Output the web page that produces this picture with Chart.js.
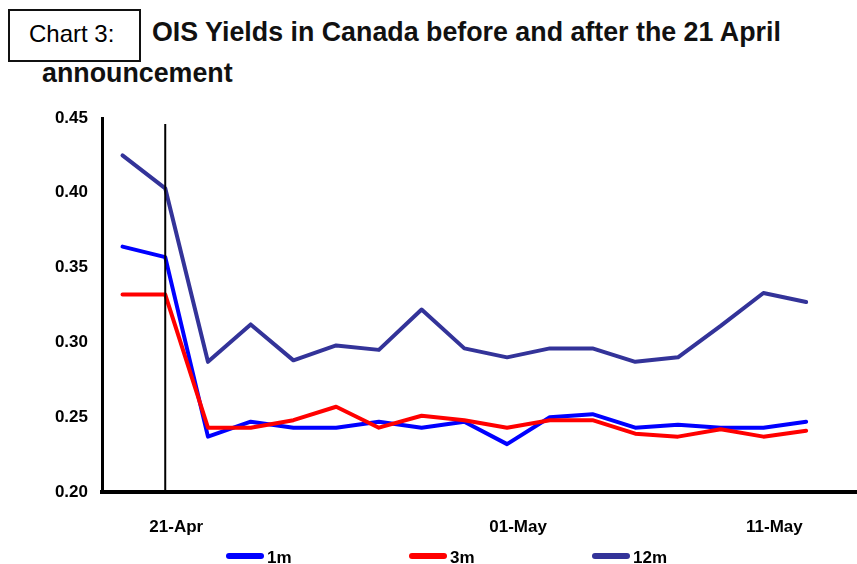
<!DOCTYPE html>
<html>
<head>
<meta charset="utf-8">
<title>OIS Yields in Canada</title>
<script src="https://cdn.jsdelivr.net/npm/chart.js@4/dist/chart.umd.min.js"></script>
<style>
    body { margin: 0; background: #fff; font-family: "Liberation Sans", Arial, sans-serif; color: #000; }
    #wrap { position: relative; width: 857px; height: 564px; overflow: hidden; }
    #chart { position: absolute; left: 0; top: 0; }
    .chart-no-box { position: absolute; left: 8px; top: 9px; width: 129px; height: 49px; border: 2px solid #111; }
    .chart-no { position: absolute; left: 29px; top: 22px; font-size: 24px; line-height: 24px; white-space: nowrap; }
    .title { position: absolute; font-size: 26.8px; line-height: 27px; font-weight: bold; white-space: nowrap; color: #111; }
    .legend-item { position: absolute; top: 549px; height: 17px; font-size: 17px; line-height: 17px; font-weight: bold; white-space: nowrap; }
    .legend-item .swatch { position: absolute; left: 0; top: 4px; width: 38px; height: 6px; border-radius: 3px; }
    .legend-item .text { position: absolute; left: 41px; top: 0; }
</style>
</head>
<body>
<div id="wrap">
    <div class="chart-no-box"></div>
    <div class="chart-no">Chart 3:</div>
    <div class="title" style="left:152px; top:19px;">OIS Yields in Canada before and after the 21 April</div>
    <div class="title" style="left:42px; top:60px;">announcement</div>
    <canvas id="chart" width="857" height="564"></canvas>
    <div id="legend"></div>
</div>
<script>
// Business days shown on the x axis
const dates = ['20-Apr', '21-Apr', '22-Apr', '23-Apr', '24-Apr', '27-Apr', '28-Apr', '29-Apr', '30-Apr',
               '01-May', '04-May', '05-May', '06-May', '07-May', '08-May', '11-May', '12-May'];
const tickDates = ['21-Apr', '01-May', '11-May'];
const eventDate = '21-Apr';
const eventLineTop = 0.446;

// OIS yields (%)
const ois1m  = [0.364, 0.357, 0.237, 0.247, 0.243, 0.243, 0.247, 0.243, 0.247, 0.232, 0.250, 0.252, 0.243, 0.245, 0.243, 0.243, 0.247];
const ois3m  = [0.332, 0.332, 0.243, 0.243, 0.248, 0.257, 0.243, 0.251, 0.248, 0.243, 0.248, 0.248, 0.239, 0.237, 0.242, 0.237, 0.241];
const ois12m = [0.425, 0.403, 0.287, 0.312, 0.288, 0.298, 0.295, 0.322, 0.296, 0.290, 0.296, 0.296, 0.287, 0.290, 0.311, 0.333, 0.327];

const seriesNames = ['1m', '3m', '12m'];
const seriesColors = ['#0000ff', '#ff0000', '#333399'];
const yTicks = [0.20, 0.25, 0.30, 0.35, 0.40, 0.45];

const FONT = '"Liberation Sans", Arial, sans-serif';

// Turn a value list into {x, y} points on the date index
function toPoints(values) {
    return values.map((v, i) => ({ x: i, y: v }));
}

// Vertical marker on the announcement day
const eventLine = {
    id: 'eventLine',
    afterDatasetsDraw(chart) {
        const x = chart.scales.x.getPixelForValue(dates.indexOf(eventDate));
        const top = chart.scales.y.getPixelForValue(eventLineTop);
        const ctx = chart.ctx;
        ctx.save();
        ctx.strokeStyle = '#000';
        ctx.lineWidth = 2;
        ctx.beginPath();
        ctx.moveTo(x, top);
        ctx.lineTo(x, chart.chartArea.bottom);
        ctx.stroke();
        ctx.restore();
    }
};

const allSeries = [ois1m, ois3m, ois12m];

new Chart(document.getElementById('chart'), {
    type: 'line',
    data: {
        datasets: allSeries.map((values, i) => ({
            label: seriesNames[i],
            data: toPoints(values),
            borderColor: seriesColors[i],
            backgroundColor: seriesColors[i],
            borderWidth: 4,
            pointRadius: 0,
            tension: 0,
            borderJoinStyle: 'round',
            borderCapStyle: 'round',
            order: allSeries.length - i
        }))
    },
    options: {
        responsive: false,
        animation: false,
        layout: { padding: { top: 118, left: 0, right: 0, bottom: 0 } },
        plugins: {
            legend: { display: false },
            tooltip: { enabled: false }
        },
        scales: {
            x: {
                type: 'linear',
                min: -0.48,
                max: 17.19,
                grid: { display: false, drawTicks: false },
                border: { display: true, color: '#000', width: 4 },
                afterBuildTicks: (scale) => {
                    scale.ticks = tickDates.map(d => ({ value: dates.indexOf(d) }));
                },
                afterFit: (scale) => { scale.height = 72; },
                ticks: {
                    autoSkip: false,
                    maxRotation: 0,
                    padding: 25,
                    labelOffset: 11,
                    color: '#000',
                    font: { family: FONT, size: 17, weight: 'bold' },
                    callback: (value) => dates[value]
                }
            },
            y: {
                min: 0.2,
                max: 0.45,
                grid: { display: false, drawTicks: false },
                border: { display: true, color: '#000', width: 3 },
                afterBuildTicks: (scale) => {
                    scale.ticks = yTicks.map(v => ({ value: v }));
                },
                afterFit: (scale) => { scale.width = 102; },
                ticks: {
                    padding: 14,
                    color: '#000',
                    font: { family: FONT, size: 17, weight: 'bold' },
                    callback: (value) => value.toFixed(2)
                }
            }
        }
    },
    plugins: [eventLine]
});

// Legend under the axis
const legendLeft = [226, 409, 592];
document.getElementById('legend').innerHTML = seriesNames.map((name, i) => `
    <div class="legend-item" style="left:${legendLeft[i]}px">
        <span class="swatch" style="background:${seriesColors[i]}"></span>
        <span class="text">${name}</span>
    </div>`).join('');
</script>
</body>
</html>
